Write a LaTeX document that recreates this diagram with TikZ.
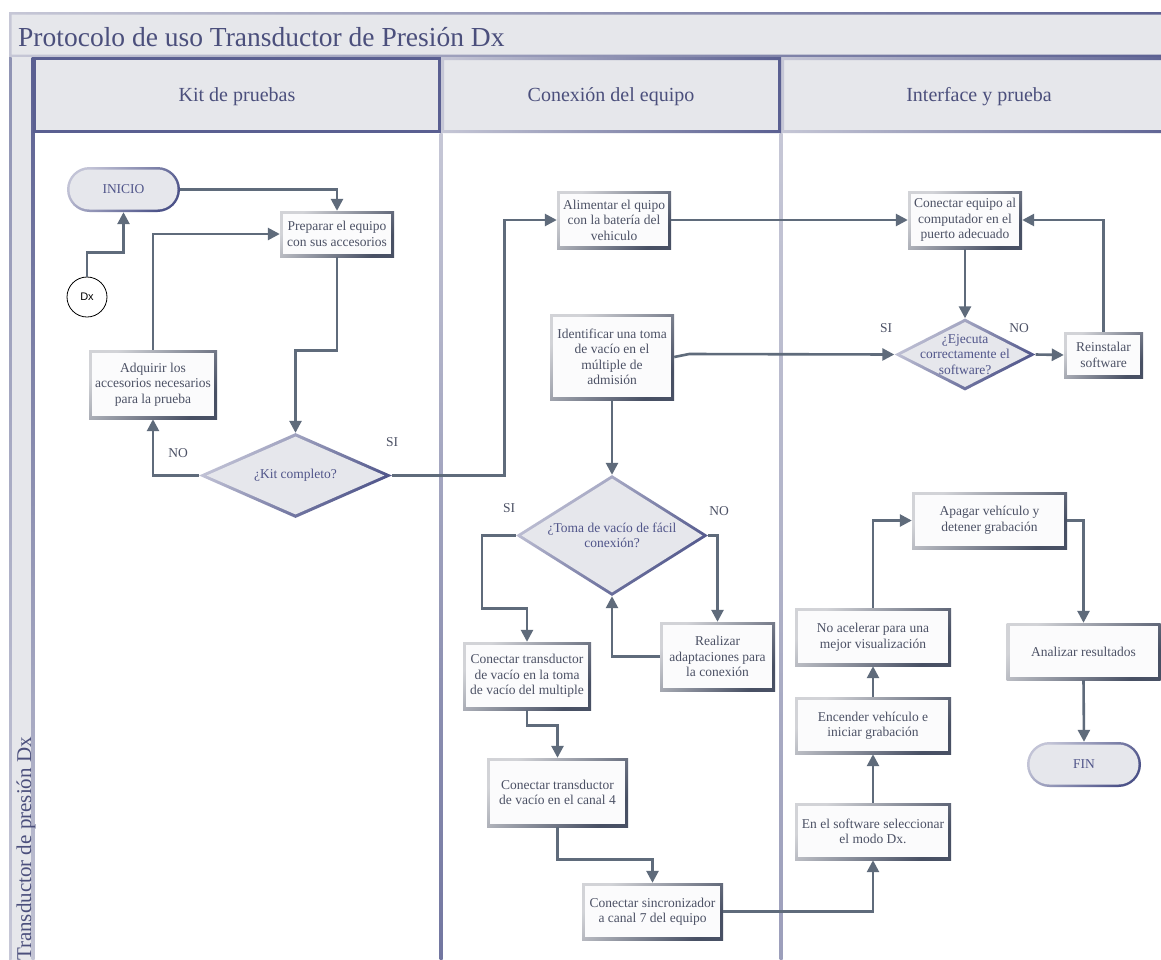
\documentclass[tikz,border=0pt]{standalone}
\usepackage{fontspec}
\setmainfont{Liberation Serif}
\newfontfamily\dxfont{Liberation Sans}
\usetikzlibrary{arrows.meta, shapes.geometric, shapes.misc}

\definecolor{laneF}{HTML}{E6E7EB}
\definecolor{laneL}{HTML}{C6C7D6}
\definecolor{laneM}{HTML}{8F93B3}
\definecolor{laneP}{HTML}{C8C9D8}
\definecolor{laneD}{HTML}{5A5F91}
\definecolor{boxL}{HTML}{D2D3D7}
\definecolor{boxD}{HTML}{485064}
\definecolor{boxF}{HTML}{FBFBFC}
\definecolor{decF}{HTML}{E6E7EC}
\definecolor{decL}{HTML}{C2C3D6}
\definecolor{decD}{HTML}{4D5389}
\definecolor{lnc}{HTML}{5F6B7B}
\definecolor{txt}{HTML}{4C5165}
\definecolor{dtxt}{HTML}{50558A}
\definecolor{htxt}{HTML}{4B4F7C}

\newcommand\boxfont{\fontsize{13.5}{15.5}\selectfont}

\tikzset{
  boxout/.style={rectangle, draw=none, inner sep=0pt, left color=boxL, right color=boxD, shading angle=45},
  boxin/.style={rectangle, draw=none, fill=boxF, inner sep=0pt, align=center, font=\boxfont, text=txt},
  diamout/.style={diamond, draw=none, inner sep=0pt, left color=decL, right color=decD, shading angle=45},
  diamin/.style={diamond, draw=none, inner sep=0pt, fill=decF},
  dtext/.style={align=center, font=\boxfont, text=dtxt, inner sep=0pt},
  termout/.style={rounded rectangle, draw=none, inner sep=0pt, left color=decL, right color=decD, shading angle=45},
  termin/.style={rounded rectangle, draw=none, inner sep=0pt, fill=decF, font=\boxfont, text=dtxt},
  arr/.style={draw=lnc, line width=2.6pt, -{Triangle[length=12pt,width=12pt]}},
  lbl/.style={font=\boxfont, text=txt, inner sep=0pt},
  hdr/.style={font=\fontsize{20}{24}\selectfont, text=htxt, inner sep=0pt, anchor=base}
}

\newcommand\flowbox[6]{%
  \node[boxout, minimum width=#4, minimum height=#5] (#1) at (#2,#3) {};
  \node[boxin, minimum width=#4-6, minimum height=#5-6] (#1-t) at (#2,#3) {#6};
}
\newcommand\flowdiam[8]{%
  \node[diamout, minimum width=#4, minimum height=#5] (#1) at (#2,#3) {};
  \node[diamin, minimum width=#4-#6, minimum height=#5-#7] (#1-f) at (#2,#3) {};
  \node[dtext] (#1-t) at (#2,#3) {#8};
}
\newcommand\flowterm[6]{%
  \node[termout, minimum width=#4, minimum height=#5] (#1) at (#2,#3) {};
  \node[termin, minimum width=#4-5, minimum height=#5-5] (#1-t) at (#2,#3) {#6};
}

\begin{document}
\begin{tikzpicture}[x=1pt, y=-1pt]
\useasboundingbox (0,0) rectangle (1161,959);
\begin{scope}
\clip (0,0) rectangle (1161,959);
\fill[white] (0,0) rectangle (1161,959);

% title band
\fill[laneF] (9,12) rectangle (1185,57);
\shade[even odd rule, left color=laneL, right color=laneD] (9,12) rectangle (1185,57) (11.5,14.5) rectangle (1182.5,54.5);
\node[font=\fontsize{27.5}{32}\selectfont, text=htxt, anchor=base west, inner sep=0pt] (title) at (18,46) {Protocolo de uso Transductor de Presión Dx};

% lane label column
\fill[laneF] (9,57) rectangle (33,980);
\shade[top color=laneM, bottom color=laneP] (9,57) rectangle (11.5,980);
\shade[top color=laneD, bottom color=laneL] (31.5,57) rectangle (34.5,980);
\node[rotate=90, anchor=base east, font=\fontsize{21}{24}\selectfont, text=htxt, inner sep=0pt] (lanelabel) at (31,737) {Transductor de presión Dx};

% lane bodies vertical separators
\shade[top color=laneL, bottom color=laneD!80!laneL] (439.5,133) rectangle (442.5,980);
\shade[top color=laneL, bottom color=laneL!60!laneD] (779.5,133) rectangle (782.5,980);

% lane headers
\fill[laneF] (781,57) rectangle (1185,133);
\shade[even odd rule, left color=laneL, right color=laneD] (781,57) rectangle (1185,133) (784,60) rectangle (1182,130);
\fill[laneF] (441,57) rectangle (781,133);
\shade[even odd rule, left color=laneL, right color=laneD] (441,57) rectangle (781,133) (444,60) rectangle (778,130);
\fill[laneF] (33,57) rectangle (441,133);
\draw[laneD, line width=3pt] (34.5,58.5) rectangle (439.5,131.5);

\node[hdr] (h1) at (237,101) {Kit de pruebas};
\node[hdr] (h2) at (611,101) {Conexión del equipo};
\node[hdr] (h3) at (979,101) {Interface y prueba};
\end{scope}

% nodes
\flowterm{inicio}{123.5}{189.5}{113}{45}{INICIO}
\node[circle, draw=black, line width=0.8pt, fill=white, minimum size=40pt, inner sep=0pt, font={\dxfont\fontsize{11}{13}\selectfont}] (dx) at (87,297) {Dx};
\flowbox{prep}{337}{234}{114}{46}{Preparar el equipo\\con sus accesorios}
\flowbox{adq}{153}{384.5}{128}{69}{Adquirir los\\accesorios necesarios\\para la prueba}
\flowdiam{kit}{295.5}{475.5}{193}{85}{15}{7}{¿Kit completo?}

\flowbox{alim}{614}{220}{114}{58}{Alimentar el quipo\\con la batería del\\vehiculo}
\flowbox{iden}{612}{357}{124}{86}{Identificar una toma\\de vacío en el\\múltiple de\\admisión}
\flowdiam{toma}{612}{535.5}{192}{121}{11}{7}{¿Toma de vacío de fácil\\conexión?}
\flowbox{ctoma}{527}{676}{128}{68}{Conectar transductor\\de vacío en la toma\\de vacío del multiple}
\flowbox{real}{717.5}{656.5}{115}{69}{Realizar\\adaptaciones para\\la conexión}
\flowbox{canal}{557.5}{792.5}{141}{69}{Conectar transductor\\de vacío en el canal 4}
\flowbox{sinc}{652.5}{911.5}{141}{57}{Conectar sincronizador\\a canal 7 del equipo}

\flowbox{coneq}{965}{220}{114}{58}{Conectar equipo al\\computador en el\\puerto adecuado}
\flowdiam{ejec}{965}{354.5}{141}{72}{13}{7}{¿Ejecuta\\correctamente el\\software?}
\flowbox{rein}{1103.5}{355}{79}{46}{Reinstalar\\software}
\flowbox{apag}{989.5}{520.5}{155}{57}{Apagar vehículo y\\detener grabación}
\flowbox{noac}{873}{637}{156}{58}{No acelerar para una\\mejor visualización}
\flowbox{ence}{873}{725.5}{156}{57}{Encender vehículo e\\iniciar grabación}
\flowbox{soft}{873}{831.5}{156}{57}{En el software seleccionar\\el modo Dx.}
\flowbox{anal}{1083.5}{651.5}{154}{57}{Analizar resultados}
\flowterm{fin}{1084}{764.5}{114}{45}{FIN}

% labels
\node[lbl] (si1) at (392,442) {SI};
\node[lbl] (no1) at (178,453) {NO};
\node[lbl] (si2) at (509,508) {SI};
\node[lbl] (no2) at (719,511) {NO};
\node[lbl] (si3) at (886,328) {SI};
\node[lbl] (no3) at (1019,328) {NO};

% connectors
\draw[arr] (inicio.east) -| (prep.north);
\draw[arr] (dx.north) -- ++(0,-24) -| (inicio.south);
\draw[arr] (prep.south) -- ++(0,93) -| (kit.north);
\draw[arr] (kit.west) -| (adq.south);
\draw[arr] (adq.north) |- (prep.west);
\draw[arr] (kit.east) -- ++(112.5,0) |- (alim.west);
\draw[arr] (alim.east) -- (coneq.west);
\draw[arr] (iden.east) -- ++(15,-3) -- (ejec.west);
\draw[arr] (iden.south) -- (toma.north);
\draw[arr] (coneq.south) -- (ejec.north);
\draw[arr] (ejec.east) -- (rein.west);
\draw[arr] (rein.north) |- (coneq.east);
\draw[arr] (toma.west) -- ++(-34,0) -- ++(0,73) -| (ctoma.north);
\draw[arr] (toma.east) -| (real.north);
\draw[arr] (real.west) -| (toma.south);
\draw[arr] (ctoma.south) -- ++(0,15) -| (canal.north);
\draw[arr] (canal.south) -- ++(0,32) -| (sinc.north);
\draw[arr] (sinc.east) -| (soft.south);
\draw[arr] (soft.north) -- (ence.south);
\draw[arr] (ence.north) -- (noac.south);
\draw[arr] (noac.north) |- (apag.west);
\draw[arr] (apag.east) -| (anal.north);
\draw[arr] (anal.south) -- (fin.north);
\end{tikzpicture}
\end{document}
